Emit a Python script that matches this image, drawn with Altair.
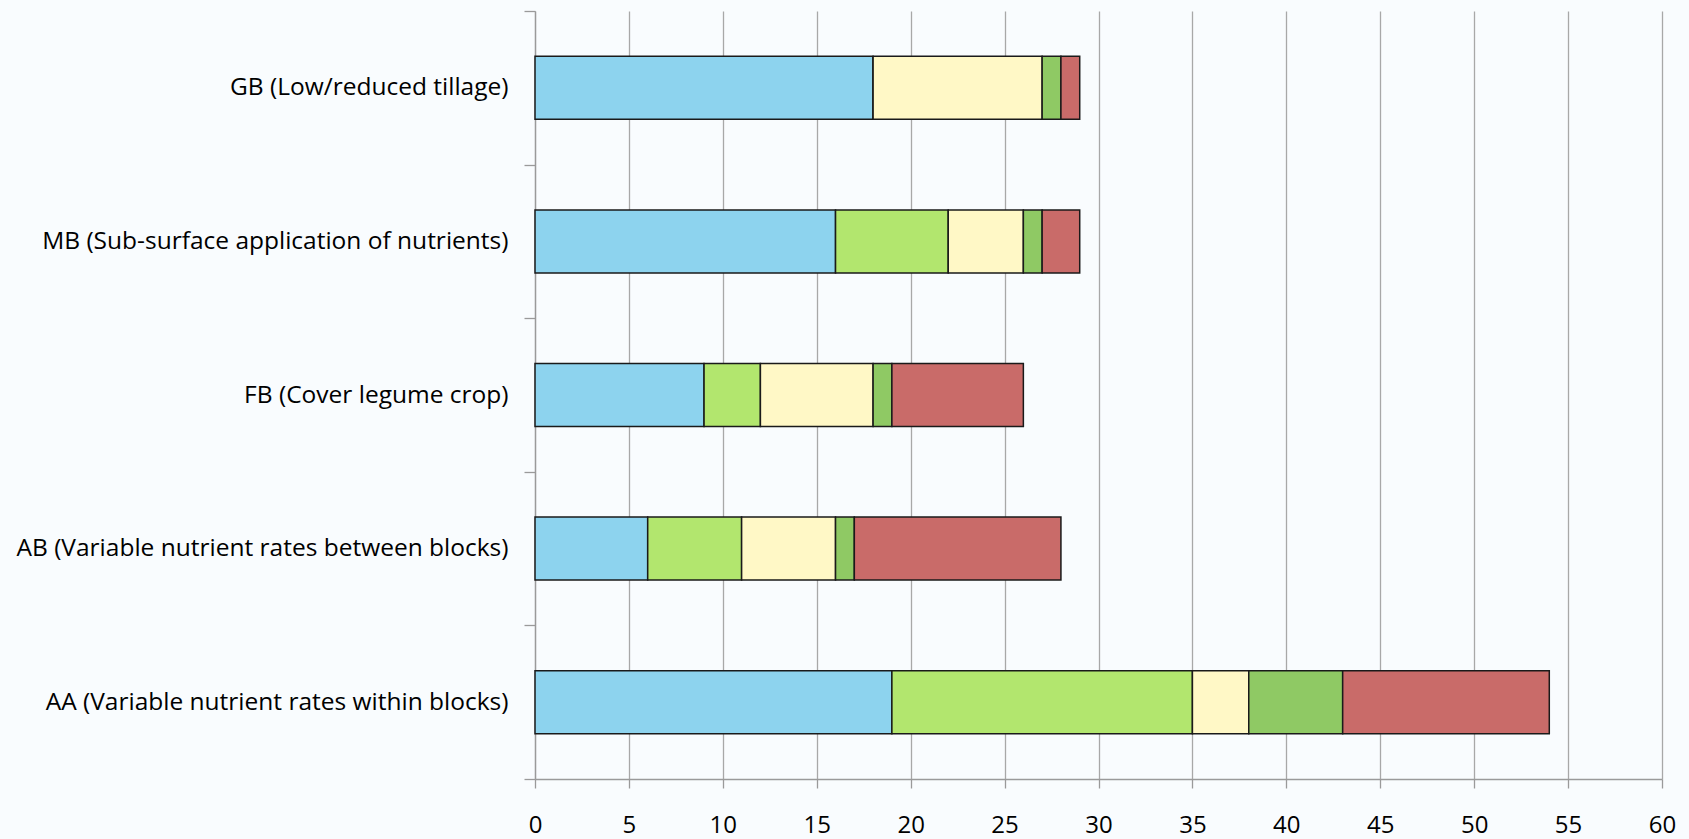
import altair as alt
import pandas as pd

categories = [
    "GB (Low/reduced tillage)",
    "MB (Sub-surface application of nutrients)",
    "FB (Cover legume crop)",
    "AB (Variable nutrient rates between blocks)",
    "AA (Variable nutrient rates within blocks)",
]
series = ["Series 1", "Series 2", "Series 3", "Series 4", "Series 5"]
series_colors = ["#8DD3EE", "#B2E66E", "#FFF8C6", "#8FC964", "#C96B69"]

s1 = [18, 16, 9, 6, 19]
s2 = [0, 6, 3, 5, 16]
s3 = [9, 4, 6, 5, 3]
s4 = [1, 1, 1, 1, 5]
s5 = [1, 2, 7, 11, 11]

rows = []
for si, (name, vals) in enumerate(zip(series, [s1, s2, s3, s4, s5])):
    for cat, v in zip(categories, vals):
        rows.append({"category": cat, "series": name, "order": si, "value": v})
df = pd.DataFrame(rows)

FONT = "Open Sans"

chart = alt.Chart(df).mark_bar(
    stroke="#1a1a1a", strokeWidth=1.5, height=alt.RelativeBandSize(0.41)
).encode(
    y=alt.Y(
        "category:N",
        sort=categories,
        title=None,
        scale=alt.Scale(paddingInner=0, paddingOuter=0),
        axis=alt.Axis(
            tickBand="extent",
            tickSize=11,
            tickColor="#9a9a9a",
            tickWidth=1.3,
            domainColor="#9a9a9a",
            domainWidth=1.3,
            labelFont=FONT,
            labelFontSize=24.5,
            labelColor="#000000",
            labelPadding=16,
            labelLimit=600,
            grid=False,
        ),
    ),
    x=alt.X(
        "value:Q",
        stack="zero",
        title=None,
        scale=alt.Scale(domain=[0, 60], nice=False),
        axis=alt.Axis(
            values=list(range(0, 61, 5)),
            tickSize=9,
            tickColor="#9a9a9a",
            tickWidth=1.3,
            domainColor="#9a9a9a",
            domainWidth=1.3,
            gridColor="#a8a8a8",
            gridWidth=1.3,
            labelFont=FONT,
            labelFontSize=24,
            labelColor="#000000",
            labelPadding=25,
            labelFlush=False,
        ),
    ),
    color=alt.Color(
        "series:N",
        scale=alt.Scale(domain=series, range=series_colors),
        legend=None,
    ),
    order=alt.Order("order:Q"),
).properties(
    width=1127,
    height=768,
    padding={"left": 535, "top": 11, "right": 27, "bottom": 60},
    autosize="none",
    background="#F9FCFE",
).configure_view(stroke=None)

chart.save("out.html", embed_options={"renderer": "svg", "actions": False})
